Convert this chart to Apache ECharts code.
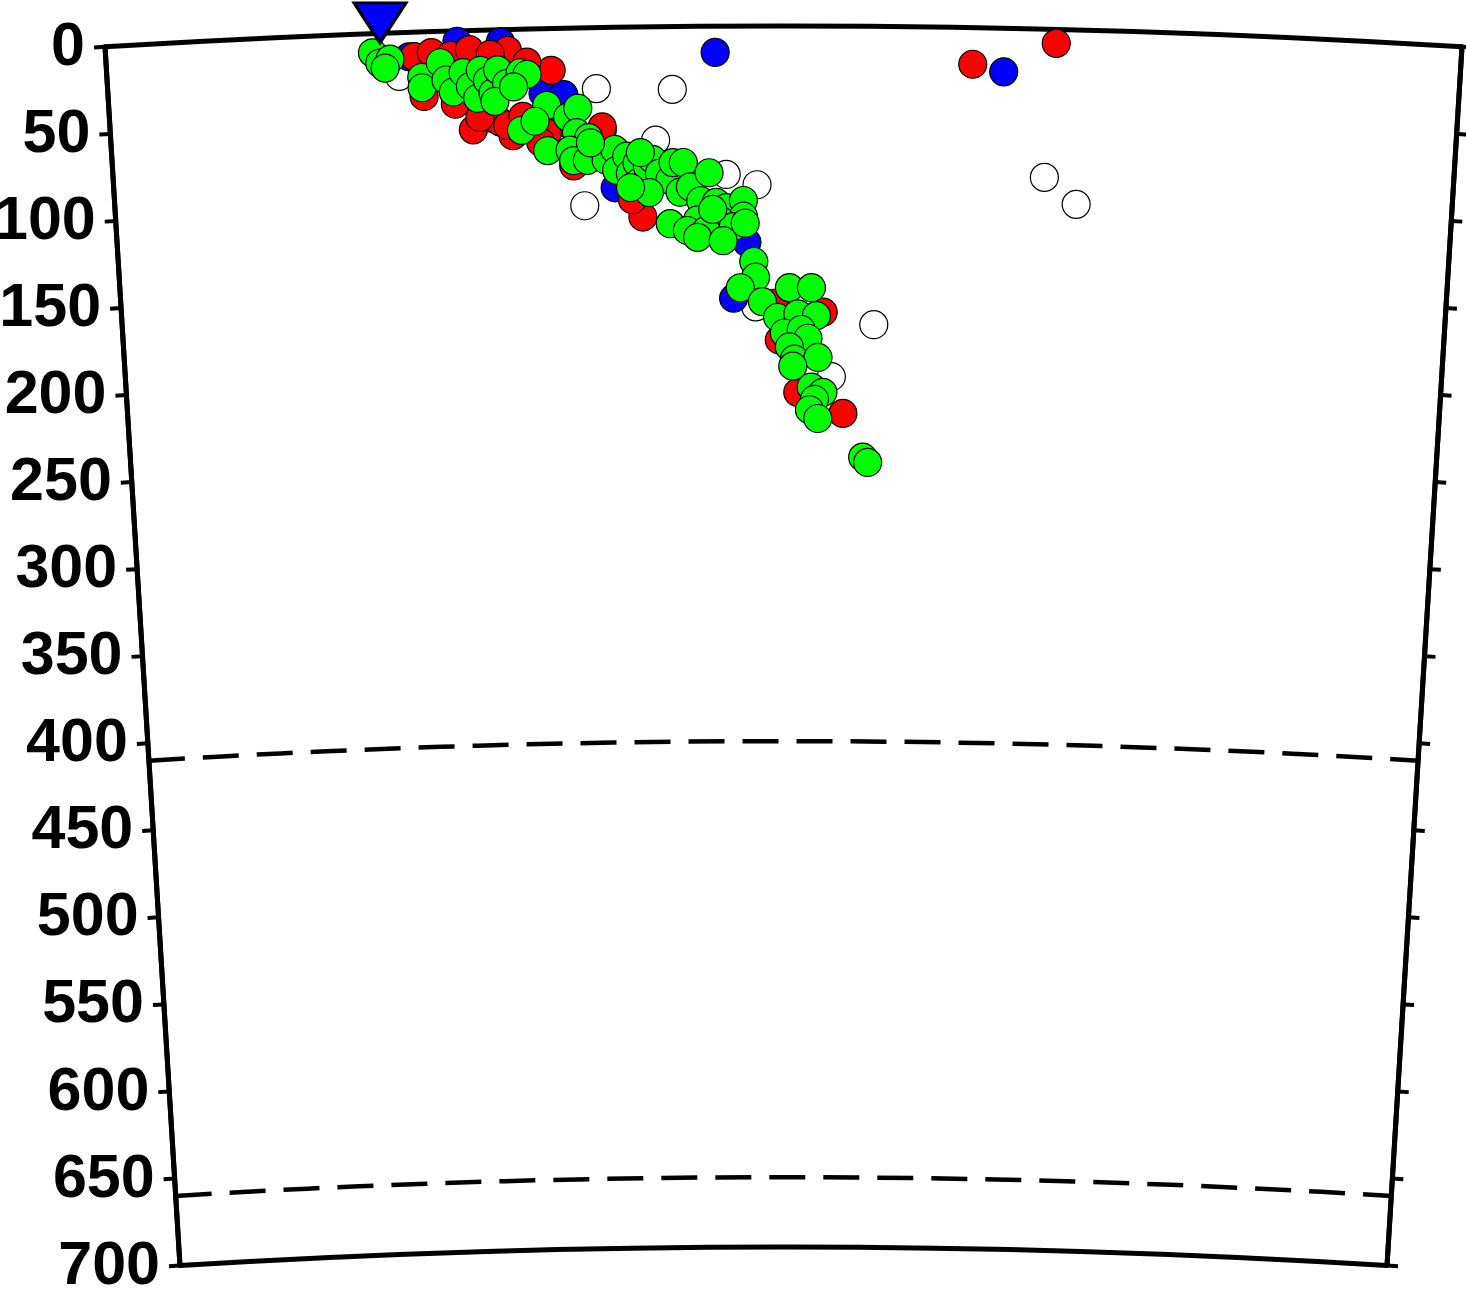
<!DOCTYPE html>
<html><head><meta charset="utf-8">
<script src="https://cdn.jsdelivr.net/npm/echarts@6/dist/echarts.min.js"></script>
<style>html,body{margin:0;padding:0;background:#fff}#c{width:1466px;height:1293px}</style>
</head><body><div id="c"></div>
<script>
// ---- data: [depth km, distance along section km] ----
const depthLabels = ['0','50','100','150','200','250','300','350','400','450','500','550','600','650','700'];
const discontinuities = [410, 660];
const stationPt = [[-6, 159]];
const whitePts = [[35,283],[36,327],[65,317],[59,286],[102,275],[85,358],[91,376],[161,375],[171,445],[201,420],[85,544],[100,563],[25,169]];
const bluePts = [[15,352],[25,519],[6,203],[7,228],[14,175],[37,252],[38,264],[92,293],[124,370],[156,362]];
const redPts = [[21,501],[8,549],[222,427],[210,400],[180,389],[164,415],[159,386],[109,309],[79,269],[57,286],[54,263],[24,257],[12,232],[14,178],[12,188],[14,199],[11,210],[14,222],[19,243],[37,183],[57,211],[61,234],[48,218],[51,223],[53,227],[55,231],[50,215],[50,240],[60,254],[65,250],[42,201],[99,303]];
const greenPts = [[11,154],[17,158],[15,164],[20,161],[26,182],[32,182],[18,193],[28,196],[35,200],[24,206],[32,210],[39,214],[23,216],[29,220],[36,223],[23,226],[31,231],[41,224],[25,239],[26,243],[33,235],[44,254],[58,239],[53,247],[70,254],[51,266],[46,272],[60,271],[63,278],[70,267],[76,269],[76,277],[76,288],[70,293],[82,294],[74,300],[84,302],[78,306],[89,307],[80,312],[76,315],[84,319],[88,325],[78,327],[78,333],[95,331],[92,337],[100,343],[84,348],[101,352],[104,358],[100,368],[109,368],[111,354],[111,341],[113,325],[117,335],[117,346],[115,362],[66,279],[72,308],[95,313],[92,302],[105,350],[121,341],[123,356],[113,369],[135,374],[144,375],[150,366],[158,379],[150,395],[150,408],[167,388],[165,400],[166,411],[176,392],[174,402],[179,406],[184,395],[191,398],[190,412],[195,397],[207,408],[210,415],[214,410],[220,407],[225,412],[247,439],[250,442]];

// ---- geometry of the curved cross-section ----
const CX = 783.5, CY = 11075, R_OUT = 11049, R_IN = 9828, HALF = 3.5206;
const SPAN = 783, DMAX = 700;
const rAt = d => R_OUT - (R_OUT - R_IN) * d / DMAX;

const chart = echarts.init(document.getElementById('c'), null, {renderer: 'canvas'});
const hidden = {axisLine:{show:false}, axisTick:{show:false}, axisLabel:{show:false}, splitLine:{show:false}};
const labelFont = {fontFamily:'Liberation Sans, Arial, sans-serif', fontWeight:'bold', fontSize:61, color:'#000'};
const LW = 5;

function sc(data, fill, z) {
  return {type:'scatter', coordinateSystem:'polar', polarIndex:0, data, clip:false, z,
    symbol:'circle', symbolSize:28,
    itemStyle:{color:fill, borderColor:'#000', borderWidth:1.2, opacity:1}};
}

chart.setOption({
  animation:false,
  backgroundColor:'#fff',
  polar:[
    {center:[CX,CY], radius:[R_IN,R_OUT]},
    {center:[CX,CY], radius:[R_IN,R_OUT]},
    {center:[CX,CY], radius:[rAt(discontinuities[1]), rAt(discontinuities[0])]},
    {center:[CX,CY], radius:[R_IN,R_OUT]}
  ],
  angleAxis:[
    Object.assign({polarIndex:0, type:'value', min:0, max:SPAN, startAngle:90+HALF, endAngle:90-HALF, clockwise:true}, hidden),
    Object.assign({polarIndex:1, type:'value', min:0, max:SPAN, interval:SPAN, startAngle:90+HALF, endAngle:90-HALF, clockwise:true}, hidden,
      {splitLine:{show:true, lineStyle:{color:'#000', width:LW}}}),
    Object.assign({polarIndex:2, type:'value', min:0, max:SPAN, startAngle:90+HALF, endAngle:90-HALF, clockwise:true}, hidden),
    Object.assign({polarIndex:3, type:'value', min:0, max:SPAN, startAngle:90-HALF, endAngle:90+HALF, clockwise:false}, hidden)
  ],
  radiusAxis:[
    {polarIndex:0, type:'value', min:0, max:DMAX, interval:50, inverse:true,
      axisLine:{show:true, lineStyle:{color:'#000', width:LW}},
      axisTick:{show:true, length:11, lineStyle:{color:'#000', width:4}},
      axisLabel:Object.assign({show:true, margin:20, padding:[16,0,0,0], formatter:v => depthLabels[Math.round(v/50)]}, labelFont),
      splitLine:{show:false}},
    Object.assign({polarIndex:1, type:'value', min:0, max:DMAX, interval:DMAX, inverse:true}, hidden,
      {splitLine:{show:true, lineStyle:{color:'#000', width:LW}}}),
    Object.assign({polarIndex:2, type:'value', min:discontinuities[0], max:discontinuities[1], interval:discontinuities[1]-discontinuities[0], inverse:true}, hidden,
      {splitLine:{show:true, lineStyle:{color:'#000', width:4.5, type:[36,18]}}}),
    {polarIndex:3, type:'value', min:0, max:DMAX, interval:50, inverse:true,
      axisLine:{show:true, lineStyle:{color:'#000', width:LW}},
      axisTick:{show:true, length:-11, lineStyle:{color:'#000', width:4}},
      axisLabel:{show:false}, splitLine:{show:false}}
  ],
  series:[
    sc(whitePts, '#ffffff', 2),
    sc(bluePts, '#0000ff', 3),
    sc(redPts, '#ff0000', 4),
    sc(greenPts, '#00ff00', 5),
    {type:'scatter', coordinateSystem:'polar', polarIndex:0, data:stationPt, clip:false, z:6,
      symbol:'triangle', symbolRotate:180, symbolSize:[52,40],
      itemStyle:{color:'#0000ff', borderColor:'#000', borderWidth:3, opacity:1}}
  ]
});
</script>
</body></html>
